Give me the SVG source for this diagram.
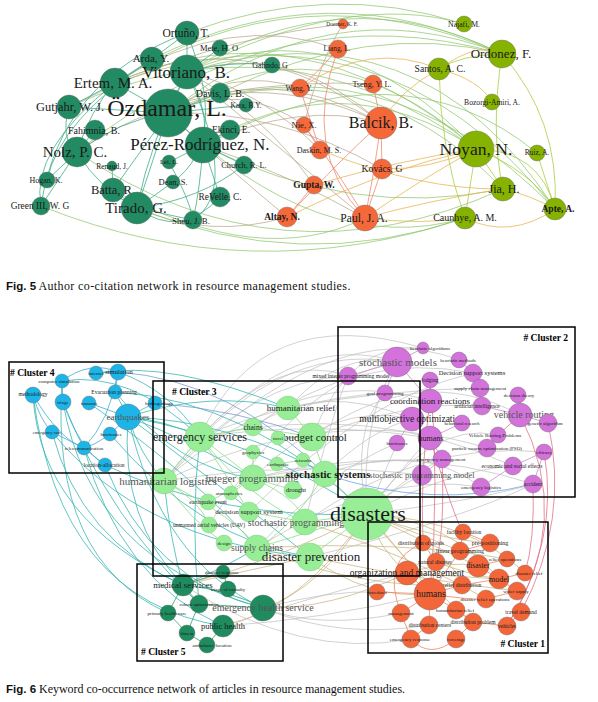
<svg xmlns="http://www.w3.org/2000/svg" width="598" height="702" viewBox="0 0 598 702">
<style>
text{font-family:"Liberation Serif","Times New Roman",serif;text-anchor:middle;fill:#1a1a1a}
.cap{text-anchor:start;fill:#111}
.capb{font-family:"Liberation Sans",Arial,sans-serif;font-weight:bold}
.cl{font-weight:bold;text-anchor:start;font-size:9.6px;fill:#000}
.clr{font-weight:bold;text-anchor:end;font-size:9.6px;fill:#000}
.g{fill:#555}
path{fill:none;stroke-width:0.9}
.c1{stroke:#3aa985;opacity:.85}
.c2{stroke:#8cc46a;opacity:.8}
.c3{stroke:#b5a68a;opacity:.8}
.c4{stroke:#f0846a;opacity:.85}
.c5{stroke:#e6b450;opacity:.85}
.c6{stroke:#a6cc3c;opacity:.85}
.b1{stroke:#2fb4b0;opacity:.85}
.b2{stroke:#38a8d0;opacity:.85}
.b3{stroke:#6c8fd8;opacity:.8}
.b4{stroke:#bdbdbd;opacity:.85;stroke-width:0.8}
.b5{stroke:#c58ac8;opacity:.85}
.b6{stroke:#e36a85;opacity:.85}
.b7{stroke:#c9b582;opacity:.85}
.b8{stroke:#86dc86;opacity:.85}
.b9{stroke:#2a9a6a;opacity:.85}
.b10{stroke:#ee7e56;opacity:.85}
.b11{stroke:#6ea6e6;opacity:.9}
circle{stroke:#6a6a6a;stroke-width:0.4}
.dg{fill:#228b64}
.og{fill:#f5683a}
.yg{fill:#86b300}
.bl{fill:#1db5e8}
.lg{fill:#97ee97;stroke:#79c479}
.pu{fill:#d272da}
.or{fill:#f2663a}
.d5{fill:#1e8c5e}
.box{fill:none;stroke:#000;stroke-width:1.5}
</style>
<rect width="598" height="702" fill="#fff"/>

<g id="connectors">
<!-- Fig 5 -->
<path class="c2" d="M187,72 Q345,-25 502,54"/>
<path class="c2" d="M168,113 Q330,-15 502,54"/>
<path class="c2" d="M115,83 Q300,-35 502,54"/>
<path class="c2" d="M152,59 Q330,-30 502,54"/>
<path class="c2" d="M187,33 Q330,-20 464,24"/>
<path class="c2" d="M168,113 Q320,10 476,149"/>
<path class="c2" d="M187,72 Q340,5 476,149"/>
<path class="c2" d="M115,83 Q300,0 476,149"/>
<path class="c2" d="M77,152 Q280,-10 502,54"/>
<path class="c2" d="M69,107 Q280,10 476,149"/>
<path class="c2" d="M187,72 Q420,0 555,209"/>
<path class="c2" d="M168,113 Q360,40 503,189"/>
<path class="c2" d="M220,93 Q370,20 502,54"/>
<path class="c2" d="M115,83 Q380,-10 555,209"/>
<path class="c2" d="M203,145 Q340,60 476,149"/>
<path class="c2" d="M168,113 Q320,260 465,218"/>
<path class="c2" d="M41,206 Q250,290 465,218"/>
<path class="c2" d="M137,208 Q300,275 465,218"/>
<path class="c2" d="M113,190 Q260,270 365,218"/>
<path class="c2" d="M187,72 Q350,-10 464,24"/>
<path class="c2" d="M203,145 Q400,40 537,153"/>
<path class="c2" d="M168,113 Q380,30 555,209"/>
<path class="c2" d="M77,152 Q280,290 503,189"/>
<path class="c2" d="M203,145 Q350,220 503,189"/>
<path class="c3" d="M168,113 Q270,60 381,123"/>
<path class="c3" d="M187,72 Q290,40 381,123"/>
<path class="c3" d="M115,83 Q250,20 381,123"/>
<path class="c3" d="M168,113 Q240,80 304,125"/>
<path class="c3" d="M187,72 Q260,90 320,150"/>
<path class="c3" d="M203,145 Q290,175 365,218"/>
<path class="c3" d="M168,113 Q230,65 300,88"/>
<path class="c3" d="M115,83 Q230,10 338,49"/>
<path class="c3" d="M168,113 Q280,110 382,169"/>
<path class="c3" d="M187,72 Q260,110 314,185"/>
<path class="c3" d="M137,208 Q210,240 287,217"/>
<path class="c3" d="M168,113 Q230,170 287,217"/>
<path class="c3" d="M77,152 Q230,50 381,123"/>
<path class="c3" d="M220,93 Q300,80 373,84"/>
<path class="c3" d="M69,107 Q200,40 343,24"/>
<path class="c3" d="M187,72 Q270,140 365,218"/>
<path class="c3" d="M203,145 Q300,100 381,123"/>
<path class="c3" d="M343,24 Q320,60 304,125"/>
<path class="c1" d="M168,113 L187,72 M168,113 L115,83 M168,113 L203,145 M168,113 Q120,120 77,152 M168,113 Q150,170 137,208 M168,113 L113,190 M168,113 L69,107 M187,72 L187,33 M187,72 Q210,110 203,145 M187,72 Q150,140 137,208 M115,83 L69,107 M115,83 Q90,110 77,152 M115,83 L152,59 M152,59 L187,33 M77,152 Q100,190 137,208 M77,152 L41,206 M77,152 L47,180 M137,208 L193,220 M137,208 L113,190 M203,145 Q200,190 193,220 M203,145 L244,165 M203,145 L220,197 M203,145 L169,162 M137,208 L173,182 M220,93 L168,113 M220,48 L187,72 M272,65 Q230,60 187,72 M246,105 L168,113 M230,130 L203,145 M95,130 L77,152 M112,166 L113,190 M69,107 Q60,140 77,152"/>
<path class="c1" d="M187,33 Q60,80 41,206 M115,83 Q30,150 41,206 M152,59 Q60,120 47,180 M187,72 Q240,190 193,220 M169,162 Q190,200 193,220 M220,197 Q180,240 137,208 M244,165 Q200,200 137,208 M187,33 Q230,140 173,182"/>
<path class="c4" d="M338,49 Q320,70 300,88 M373,84 L381,123 M381,123 Q375,170 365,218 M382,169 L365,218 M381,123 L382,169 M304,125 L320,150 M300,88 Q310,120 320,150 M338,49 Q300,150 365,218 M314,185 L287,217 M287,217 Q340,160 381,123 M304,125 Q350,190 365,218"/>
<path class="c5" d="M300,88 Q370,40 439,69 M439,69 Q480,80 492,102 M365,218 Q420,180 476,149 M365,218 Q430,200 503,189 M287,217 Q380,170 476,149 M382,169 Q430,170 476,149 M365,218 Q420,225 465,218 M381,123 Q400,90 439,69 M314,185 Q400,160 476,149 M320,150 Q420,190 503,189 M465,218 Q510,240 555,209 M503,189 Q530,195 555,209 M439,69 Q480,40 502,54"/>
<path class="c6" d="M502,54 Q460,55 439,69 M439,69 Q440,150 465,218 M502,54 Q490,130 503,189 M476,149 Q530,170 555,209 M537,153 L555,209 M476,149 L503,189 M476,149 L465,218 M502,54 Q560,120 555,209 M476,149 Q540,150 555,209"/>

<!-- Fig 6 -->
<path class="b4" d="M200,437 Q300,330 397,362 M200,437 Q280,350 348,376 M164,481 Q270,340 397,362 M164,481 Q300,360 430,401 M253,478 Q330,400 412,419 M367,514 Q360,420 397,362 M367,514 Q400,470 430,438 M367,514 Q400,480 442,459 M367,514 Q390,490 422,475 M367,514 L397,443 M367,514 Q350,430 385,393 M312,437 Q350,340 423,348 M312,437 Q420,360 520,415 M325,474 Q370,430 412,419 M253,427 Q360,350 473,373 M288,408 Q340,350 397,362 M200,437 Q370,400 513,466 M257,548 Q380,470 481,487 M253,478 Q400,440 533,484 M164,481 Q330,400 487,448"/>
<path class="b4" d="M305,522 Q420,440 544,452 M249,512 Q360,400 473,373 M310,557 Q460,520 533,484 M209,525 Q300,380 397,362 M200,437 Q320,420 430,438 M288,408 Q380,390 480,388 M312,437 Q410,400 482,406 M164,481 Q300,460 422,475 M253,478 Q350,460 442,459 M367,514 Q450,470 513,466 M367,514 Q430,420 498,435 M325,474 Q420,440 481,487 M305,522 Q330,420 348,376 M200,437 Q290,400 385,393 M164,481 Q250,380 348,376 M253,427 Q320,380 412,419 M257,548 Q330,470 397,443 M367,514 Q480,500 533,484 M200,437 Q260,300 423,348 M164,481 Q330,310 459,360"/>
<path class="b4" d="M263,608 Q320,630 401,613 M223,626 Q320,620 430,594 M263,608 Q330,590 377,592 M183,585 Q300,660 411,639 M223,626 Q300,600 407,573 M263,608 Q340,640 429,625"/>
<path class="b1" d="M128,417 Q165,420 200,437 M128,417 Q140,455 164,481 M128,417 Q190,440 253,478 M128,417 Q230,420 325,474 M128,417 Q210,390 288,408 M128,417 Q120,520 183,585 M128,417 Q260,440 367,514 M118,372 Q170,390 200,437 M115,392 Q250,400 367,514 M33,395 Q40,520 183,585 M63,402 Q90,560 263,608 M52,432 Q80,540 183,585 M84,448 Q120,580 223,626 M105,465 Q150,580 263,608 M110,434 Q200,540 310,557 M62,381 Q130,370 200,437 M33,395 Q60,600 223,626"/>
<path class="b1" d="M62,381 Q50,560 168,613 M63,402 Q110,520 199,604 M89,403 Q200,480 257,548 M128,417 Q200,470 310,557 M115,392 Q180,470 253,478 M96,373 Q170,360 288,408 M128,417 Q160,560 263,608 M52,432 Q140,540 310,557 M105,465 Q220,520 367,514 M257,548 Q220,570 183,585 M164,481 Q170,540 183,585 M200,437 Q190,520 199,604"/>
<path class="b2" d="M62,381 L63,402 M96,373 L118,372 M118,372 L115,392 M115,392 L128,417 M89,403 L128,417 M128,417 L110,434 M84,448 L105,465 M33,395 Q40,420 52,432 M52,432 L84,448 M110,434 Q95,445 84,448 M62,381 Q90,360 118,372 M118,372 Q110,420 84,448 M33,395 Q60,440 84,448 M63,402 Q80,450 105,465 M128,417 Q150,405 155,403"/>
<path class="b3" d="M155,403 Q240,410 312,437 M118,372 Q230,380 325,474"/>
<path class="b5" d="M397,362 L430,401 M459,360 L473,373 M480,388 L482,406 M520,415 L548,423 M462,423 L430,438 M412,419 L397,443 M430,438 L442,459 M442,459 L422,475 M513,466 L544,452 M533,484 L544,452 M423,348 L397,362 M430,380 L430,401 M385,393 L397,362 M473,373 L480,388 M518,395 L520,415 M482,406 L520,415 M487,448 L498,435 M481,487 L513,466 M348,376 L397,362"/>
<path class="b6" d="M430,380 Q440,480 430,594 M430,401 Q420,470 423,543 M520,415 Q575,520 507,626 M548,423 Q570,520 521,612 M544,452 Q560,540 507,626 M498,435 L520,415 M442,459 Q445,530 436,562 M430,438 Q455,520 463,532 M533,484 Q535,540 525,573"/>
<path class="b11" d="M325,474 Q430,510 533,484"/>
<path class="b7" d="M367,514 Q410,560 430,594 M367,514 Q380,550 407,573 M367,514 Q450,520 499,579 M367,514 Q470,520 525,573 M367,514 Q430,590 473,622 M367,514 Q280,560 183,585 M367,514 Q320,590 263,608 M367,514 Q300,610 223,626 M257,548 Q360,590 462,585 M310,557 Q370,600 430,594 M310,557 Q250,570 183,585 M407,573 Q330,610 263,608 M367,514 Q420,540 478,566 M367,514 Q440,540 490,543 M367,514 Q410,530 460,551 M257,548 Q400,540 507,559 M310,557 Q420,580 517,591 M305,522 Q420,560 486,599 M407,573 L499,579 M407,573 Q450,560 478,566 M436,562 Q470,575 499,579 M423,543 Q460,570 462,585"/>
<path class="b8" d="M200,437 L253,427 M200,437 L164,481 M200,437 L253,478 M253,478 L325,474 M253,427 L312,437 M312,437 L325,474 M288,408 L312,437 M257,548 L367,514 M310,557 L367,514 M249,512 L305,522 M277,464 L303,460 M164,481 Q190,520 224,543 M305,522 L367,514 M253,478 Q300,500 305,522 M325,474 L367,514 M200,437 Q230,480 249,512 M164,481 Q200,500 209,525 M253,478 L293,490 M231,493 L253,478 M208,502 L253,478 M253,452 L253,478 M278,438 L312,437 M164,481 Q240,520 257,548 M200,437 Q250,500 305,522 M325,474 Q290,530 257,548"/>
<path class="b9" d="M183,585 L199,604 M183,585 L168,613 M199,604 L187,633 M187,633 L207,645 M199,604 L263,608 M183,585 Q230,590 263,608 M223,626 L207,645 M168,613 L187,633 M223,572 L228,589 M183,585 L223,572"/>
<path class="b10" d="M463,532 L490,543 M423,543 L436,562 M460,551 L430,594 M430,594 L407,573 M430,594 L401,613 M430,594 L429,625 M430,594 L456,610 M430,594 L462,585 M478,566 L499,579 M499,579 L517,591 M486,599 L517,591 M473,622 L456,639 M401,613 L411,639 M411,639 Q430,660 456,639 M507,626 L521,612 M462,585 L499,579 M436,562 L430,594 M429,625 L411,639 M478,566 L507,559 M456,610 L473,622 M473,622 L507,626 M490,543 L460,551 M463,532 L460,551 M377,592 L430,594 M499,579 L525,573 M430,594 Q470,600 486,599 M401,613 Q380,560 423,543"/>
</g>

<!-- Fig 5 nodes -->
<g id="n-ortuno"><circle class="dg" cx="187" cy="33" r="12"/><text x="186" y="37" font-size="11.5">Ortuño, T.</text></g>
<g id="n-mete"><circle class="dg" cx="220" cy="48" r="8"/><text x="219" y="51" font-size="8.5">Mete, H. O</text></g>
<g id="n-arda"><circle class="dg" cx="152" cy="59" r="12"/><text x="151" y="62" font-size="11">Arda, Y.</text></g>
<g id="n-vitoriano"><circle class="dg" cx="187" cy="72" r="17"/><text x="186" y="78" font-size="17">Vitoriano, B.</text></g>
<g id="n-galindo"><circle class="dg" cx="272" cy="65" r="8"/><text x="270" y="68" font-size="8">Galindo, G</text></g>
<g id="n-ertem"><circle class="dg" cx="115" cy="83" r="15"/><text x="113" y="88" font-size="15">Ertem, M. A.</text></g>
<g id="n-davis"><circle class="dg" cx="220" cy="93" r="10"/><text x="220" y="96.5" font-size="10">Davis, L. B.</text></g>
<g id="n-kara"><circle class="dg" cx="246" cy="105" r="7"/><text x="246" y="107.5" font-size="7.4">Kara, B.Y.</text></g>
<g id="n-gutjahr"><circle class="dg" cx="69" cy="107" r="12"/><text x="70" y="111" font-size="12.4">Gutjahr, W. J.</text></g>
<g id="n-ozdamar"><circle class="dg" cx="168" cy="113" r="24"/><text x="167" y="116" font-size="24">Özdamar, L.</text></g>
<g id="n-fahimnia"><circle class="dg" cx="95" cy="130" r="10"/><text x="94" y="133.5" font-size="10">Fahimnia, B.</text></g>
<g id="n-nolz"><circle class="dg" cx="77" cy="152" r="15"/><text x="75" y="157" font-size="15">Nolz, P. C.</text></g>
<g id="n-ekinci"><circle class="dg" cx="230" cy="130" r="10"/><text x="231" y="132.5" font-size="9.6">Ekinci, E.</text></g>
<g id="n-perez"><circle class="dg" cx="203" cy="145" r="18"/><text x="200" y="150" font-size="17">Pérez-Rodríguez, N.</text></g>
<g id="n-renaud"><circle class="dg" cx="112" cy="166" r="5"/><text x="112" y="168.5" font-size="7.5">Renaud, J.</text></g>
<g id="n-lei"><circle class="dg" cx="169" cy="162" r="7"/><text x="169" y="164.3" font-size="6.7">Lei, L.</text></g>
<g id="n-church"><circle class="dg" cx="244" cy="165" r="9"/><text x="244" y="167.8" font-size="8.3">Church, R. L.</text></g>
<g id="n-hogan"><circle class="dg" cx="47" cy="180" r="8"/><text x="46" y="182.7" font-size="8">Hogan, K.</text></g>
<g id="n-dean"><circle class="dg" cx="173" cy="182" r="7"/><text x="173" y="184.8" font-size="8.5">Dean, S.</text></g>
<g id="n-batta"><circle class="dg" cx="113" cy="190" r="12"/><text x="113" y="194" font-size="12.5">Batta, R.</text></g>
<g id="n-revelle"><circle class="dg" cx="220" cy="197" r="10"/><text x="220" y="200" font-size="9.4">ReVelle, C.</text></g>
<g id="n-green"><circle class="dg" cx="41" cy="206" r="9"/><text x="40" y="209" font-size="9.4">Green III, W. G</text></g>
<g id="n-tirado"><circle class="dg" cx="137" cy="208" r="16"/><text x="136" y="213" font-size="15">Tirado, G.</text></g>
<g id="n-sheu"><circle class="dg" cx="193" cy="220" r="9"/><text x="191" y="224" font-size="8.8">Sheu, J. B.</text></g>
<g id="n-wang"><circle class="og" cx="300" cy="88" r="9"/><text x="299" y="90.5" font-size="7.5">Wang, Y.</text></g>
<g id="n-doerner"><circle class="og" cx="343" cy="24" r="5"/><text x="342" y="25.8" font-size="5.5">Doerner, K. F.</text></g>
<g id="n-liang"><circle class="og" cx="338" cy="49" r="9"/><text x="337" y="51.4" font-size="7.3">Liang, L.</text></g>
<g id="n-tseng"><circle class="og" cx="373" cy="84" r="9"/><text x="372" y="86.7" font-size="8.2">Tseng, Y. L.</text></g>
<g id="n-balcik"><circle class="og" cx="381" cy="123" r="16"/><text x="381" y="127.5" font-size="16">Balcik, B.</text></g>
<g id="n-nie"><circle class="og" cx="304" cy="125" r="8"/><text x="304" y="127.8" font-size="8.6">Nie, X.</text></g>
<g id="n-daskin"><circle class="og" cx="320" cy="150" r="9"/><text x="319" y="152.7" font-size="8.1">Daskin, M. S.</text></g>
<g id="n-kovacs"><circle class="og" cx="382" cy="169" r="10"/><text x="382" y="172.2" font-size="9.7">Kovács, G</text></g>
<g id="n-gupta"><circle class="og" cx="314" cy="185" r="9"/><text x="314" y="188.1" font-size="9.5" font-weight="bold">Gupta, W.</text></g>
<g id="n-altay"><circle class="og" cx="287" cy="217" r="10"/><text x="282" y="220.1" font-size="9.5" font-weight="bold">Altay, N.</text></g>
<g id="n-paul"><circle class="og" cx="365" cy="218" r="13"/><text x="364" y="221.8" font-size="11.6">Paul, J. A.</text></g>
<g id="n-najafi"><circle class="yg" cx="464" cy="24" r="8"/><text x="464" y="26.5" font-size="7.7">Najafi, M.</text></g>
<g id="n-ordonez"><circle class="yg" cx="502" cy="54" r="14"/><text x="501" y="58.3" font-size="13">Ordonez, F.</text></g>
<g id="n-santos"><circle class="yg" cx="439" cy="69" r="11"/><text x="440" y="72.2" font-size="9.7">Santos, A. C.</text></g>
<g id="n-bozorgi"><circle class="yg" cx="492" cy="102" r="8"/><text x="492" y="104.5" font-size="7.6">Bozorgi-Amiri, A.</text></g>
<g id="n-noyan"><circle class="yg" cx="476" cy="149" r="18"/><text x="476" y="154.8" font-size="17.6">Noyan, N.</text></g>
<g id="n-ruiz"><circle class="yg" cx="537" cy="153" r="8"/><text x="537" y="155.4" font-size="7.4">Ruiz, A.</text></g>
<g id="n-jia"><circle class="yg" cx="503" cy="189" r="12"/><text x="504" y="193" font-size="12">Jia, H.</text></g>
<g id="n-apte"><circle class="yg" cx="555" cy="209" r="11"/><text x="558" y="212.1" font-size="9.5" font-weight="bold">Apte, A.</text></g>
<g id="n-caunhye"><circle class="yg" cx="465" cy="218" r="11"/><text x="465" y="221.3" font-size="10">Caunhye, A. M.</text></g>

<text class="cap" x="6" y="290" font-size="12"><tspan class="capb" font-size="11.5">Fig. 5</tspan> <tspan textLength="312">Author co-citation network in resource management studies.</tspan></text>

<!-- Fig 6 nodes: cluster 4 -->
<g id="k-computer-simulation"><circle class="bl" cx="62" cy="381" r="7"/><text x="59" y="382.7" font-size="5">computer simulation</text></g>
<g id="k-internet"><circle class="bl" cx="96" cy="373" r="7"/><text x="96" y="374.7" font-size="5">internet</text></g>
<g id="k-simulation"><circle class="bl" cx="118" cy="372" r="8"/><text x="119" y="374.2" font-size="6.5">simulation</text></g>
<g id="k-methodology"><circle class="bl" cx="33" cy="395" r="8"/><text x="33" y="396" font-size="5.5">methodology</text></g>
<g id="k-triage"><circle class="bl" cx="63" cy="402" r="8"/><text x="63" y="403.7" font-size="5">triage</text></g>
<g id="k-evacuation"><circle class="bl" cx="115" cy="392" r="7"/><text x="114" y="393.8" font-size="5.5">Evacuation planning</text></g>
<g id="k-tsunamis"><circle class="bl" cx="89" cy="403" r="7"/><text x="89" y="404.5" font-size="4.5">tsunamis</text></g>
<g id="k-hydro"><circle class="bl" cx="155" cy="403" r="7"/><text x="159" y="404.7" font-size="5">hydrogeology</text></g>
<g id="k-earthquakes"><circle class="bl" cx="128" cy="417" r="13"/><text class="g" x="128" y="420" font-size="9">earthquakes</text></g>
<g id="k-emergency-care"><circle class="bl" cx="52" cy="432" r="7"/><text x="47" y="433.5" font-size="4.5">emergency care</text></g>
<g id="k-hurricanes4"><circle class="bl" cx="110" cy="434" r="7"/><text x="111" y="435.7" font-size="5">hurricanes</text></g>
<g id="k-telecom"><circle class="bl" cx="84" cy="448" r="7"/><text x="84" y="449.7" font-size="5">telecommunication</text></g>
<g id="k-location"><circle class="bl" cx="105" cy="465" r="7"/><text x="104" y="466.8" font-size="5.5">location-allocation</text></g>

<!-- cluster 3 -->
<g id="k-emergency-services"><circle class="lg" cx="200" cy="437" r="15"/><text x="200" y="441" font-size="12" fill="#333">emergency services</text></g>
<g id="k-humanitarian-relief3"><circle class="lg" cx="288" cy="408" r="12"/><text x="301" y="411" font-size="9" fill="#444">humanitarian relief</text></g>
<g id="k-chains"><circle class="lg" cx="253" cy="427" r="9"/><text x="253" y="429.5" font-size="7.5">chains</text></g>
<g id="k-budget"><circle class="lg" cx="312" cy="437" r="14"/><text x="315" y="440.6" font-size="11" fill="#333">budget control</text></g>
<g id="k-travel"><circle class="lg" cx="278" cy="438" r="7"/><text x="278" y="439.5" font-size="4.5">travel</text></g>
<g id="k-geophysics"><circle class="lg" cx="253" cy="452" r="7"/><text x="253" y="453.7" font-size="5">geophysics</text></g>
<g id="k-earthquake"><circle class="lg" cx="277" cy="464" r="7"/><text x="278" y="465.7" font-size="5">earthquake</text></g>
<g id="k-networks"><circle class="lg" cx="303" cy="460" r="7"/><text x="303" y="461.5" font-size="4.5">networks</text></g>
<g id="k-hum-logistics"><circle class="lg" cx="164" cy="481" r="13"/><text class="g" x="168" y="484.6" font-size="11">humanitarian logistics</text></g>
<g id="k-integer"><circle class="lg" cx="253" cy="478" r="13"/><text class="g" x="252" y="481.6" font-size="11">integer programming</text></g>
<g id="k-stoch-systems"><circle class="lg" cx="325" cy="474" r="13"/><text x="328" y="477.6" font-size="11" font-weight="bold" fill="#333">stochastic systems</text></g>
<g id="k-drought"><circle class="lg" cx="293" cy="490" r="9"/><text x="296" y="492.2" font-size="6.5">drought</text></g>
<g id="k-atmospherics"><circle class="lg" cx="231" cy="493" r="7"/><text x="229" y="494.7" font-size="5">atmospherics</text></g>
<g id="k-eq-event"><circle class="lg" cx="208" cy="502" r="8"/><text x="208" y="503.8" font-size="5.5">earthquake event</text></g>
<g id="k-dss"><circle class="lg" cx="249" cy="512" r="10"/><text x="249" y="514.3" font-size="7">decision support system</text></g>
<g id="k-uav"><circle class="lg" cx="209" cy="525" r="8"/><text x="209" y="526.8" font-size="5.5">unmanned aerial vehicles (UAV)</text></g>
<g id="k-stoch-prog"><circle class="lg" cx="305" cy="522" r="13"/><text class="g" x="296" y="526.3" font-size="10">stochastic programming</text></g>
<g id="k-design"><circle class="lg" cx="224" cy="543" r="8"/><text x="224" y="544.7" font-size="5">design</text></g>
<g id="k-supply-chains"><circle class="lg" cx="257" cy="548" r="13"/><text class="g" x="257" y="551.2" font-size="9.5">supply chains</text></g>
<g id="k-disasters"><circle class="lg" cx="367" cy="514" r="26"/><text x="368" y="521" font-size="22" fill="#000">disasters</text></g>
<g id="k-disaster-prevention"><circle class="lg" cx="310" cy="557" r="14"/><text x="311" y="561.3" font-size="13" fill="#111">disaster prevention</text></g>

<!-- cluster 2 -->
<g id="k-mip"><circle class="pu" cx="348" cy="376" r="9"/><text x="351" y="377.8" font-size="5.5">mixed integer programming model</text></g>
<g id="k-heur-alg"><circle class="pu" cx="423" cy="348" r="6"/><text x="430" y="349.7" font-size="5">heuristic algorithms</text></g>
<g id="k-stoch-models"><circle class="pu" cx="397" cy="362" r="15"/><text class="g" x="398" y="365.6" font-size="11">stochastic models</text></g>
<g id="k-heur-methods"><circle class="pu" cx="459" cy="360" r="8"/><text x="458" y="361.7" font-size="5">heuristic methods</text></g>
<g id="k-dsys"><circle class="pu" cx="473" cy="373" r="9"/><text x="472" y="375.2" font-size="6.5">Decision support systems</text></g>
<g id="k-lodging"><circle class="pu" cx="430" cy="380" r="8"/><text x="430" y="381.8" font-size="5.5">lodging</text></g>
<g id="k-goal"><circle class="pu" cx="385" cy="393" r="8"/><text x="385" y="394.7" font-size="5">goal programming</text></g>
<g id="k-scm"><circle class="pu" cx="480" cy="388" r="9"/><text x="480" y="389.7" font-size="5">supply chain management</text></g>
<g id="k-dtheory"><circle class="pu" cx="518" cy="395" r="8"/><text x="519" y="396.7" font-size="5">decision theory</text></g>
<g id="k-coord"><circle class="pu" cx="430" cy="401" r="12"/><text x="430" y="404" font-size="9" fill="#333">coordination reactions</text></g>
<g id="k-ai"><circle class="pu" cx="482" cy="406" r="9"/><text x="477" y="407.8" font-size="5.5">artificial intelligence</text></g>
<g id="k-vr"><circle class="pu" cx="520" cy="415" r="12"/><text class="g" x="524" y="418.3" font-size="10">vehicle routing</text></g>
<g id="k-multi"><circle class="pu" cx="412" cy="419" r="12"/><text x="412" y="422.1" font-size="9.5" fill="#333">multiobjective optimization</text></g>
<g id="k-behav"><circle class="pu" cx="462" cy="423" r="8"/><text x="462" y="424.5" font-size="4.5">behavioral research</text></g>
<g id="k-genetic"><circle class="pu" cx="548" cy="423" r="9"/><text x="545" y="424.7" font-size="5">genetic algorithm</text></g>
<g id="k-vrp"><circle class="pu" cx="498" cy="435" r="8"/><text x="495" y="436.7" font-size="5">Vehicle Routing Problems</text></g>
<g id="k-humans2"><circle class="pu" cx="430" cy="438" r="12"/><text x="431" y="440.6" font-size="8" fill="#333">humans</text></g>
<g id="k-hurricanes2"><circle class="pu" cx="397" cy="443" r="8"/><text x="397" y="444.7" font-size="5">hurricanes</text></g>
<g id="k-pso"><circle class="pu" cx="487" cy="448" r="9"/><text x="487" y="449.7" font-size="5">particle swarm optimization (PSO)</text></g>
<g id="k-efficacy"><circle class="pu" cx="544" cy="452" r="8"/><text x="544" y="453.7" font-size="5">efficacy</text></g>
<g id="k-em"><circle class="pu" cx="442" cy="459" r="9"/><text x="441" y="460.7" font-size="5">emergency management</text></g>
<g id="k-ese"><circle class="pu" cx="513" cy="466" r="9"/><text x="512" y="467.8" font-size="5.5">economic and social effects</text></g>
<g id="k-spm"><circle class="pu" cx="422" cy="475" r="10"/><text class="g" x="422" y="477.8" font-size="8.5">stochastic programming model</text></g>
<g id="k-el"><circle class="pu" cx="481" cy="487" r="9"/><text x="481" y="488.7" font-size="5">emergency logistics</text></g>
<g id="k-accident"><circle class="pu" cx="533" cy="484" r="9"/><text x="533" y="485.8" font-size="5.5">accident</text></g>

<!-- cluster 1 -->
<g id="k-facility"><circle class="or" cx="463" cy="532" r="8"/><text x="464" y="533.8" font-size="5.5">facility location</text></g>
<g id="k-dgoods"><circle class="or" cx="423" cy="543" r="8"/><text x="421" y="544.8" font-size="5.5">distribution of goods</text></g>
<g id="k-prepos"><circle class="or" cx="490" cy="543" r="9"/><text x="490" y="545" font-size="6">pre-positioning</text></g>
<g id="k-linear"><circle class="or" cx="460" cy="551" r="9"/><text x="460" y="553" font-size="6">linear programming</text></g>
<g id="k-relief-ops"><circle class="or" cx="507" cy="559" r="8"/><text x="505" y="560.7" font-size="5">relief operations</text></g>
<g id="k-natural"><circle class="or" cx="436" cy="562" r="9"/><text x="435" y="563.8" font-size="5.5">natural disaster</text></g>
<g id="k-disaster"><circle class="or" cx="478" cy="566" r="11"/><text x="478" y="567.5" font-size="7.5">disaster</text></g>
<g id="k-org"><circle class="or" cx="407" cy="573" r="12"/><text x="407" y="576.1" font-size="9.5" fill="#333">organization and management</text></g>
<g id="k-model"><circle class="or" cx="499" cy="579" r="10"/><text x="499" y="581.6" font-size="8">model</text></g>
<g id="k-drelief"><circle class="or" cx="525" cy="573" r="8"/><text x="529" y="574.7" font-size="5">disaster relief</text></g>
<g id="k-rdist"><circle class="or" cx="462" cy="585" r="9"/><text x="462" y="586.8" font-size="5.5">relief distribution</text></g>
<g id="k-procedures"><circle class="or" cx="377" cy="592" r="8"/><text x="377" y="593.5" font-size="4.5">procedures</text></g>
<g id="k-humans1"><circle class="or" cx="430" cy="594" r="16"/><text x="431" y="597.1" font-size="9.5" fill="#333">humans</text></g>
<g id="k-water"><circle class="or" cx="517" cy="591" r="9"/><text x="516" y="592.7" font-size="5">water supply</text></g>
<g id="k-dro"><circle class="or" cx="486" cy="599" r="9"/><text x="485" y="600.7" font-size="5">disaster relief operations</text></g>
<g id="k-hrelief1"><circle class="or" cx="456" cy="610" r="9"/><text x="455" y="611.7" font-size="5">humanitarian relief</text></g>
<g id="k-management"><circle class="or" cx="401" cy="613" r="9"/><text x="401" y="614.7" font-size="5">management</text></g>
<g id="k-travel-demand"><circle class="or" cx="521" cy="612" r="9"/><text x="521" y="613.8" font-size="5.5">travel demand</text></g>
<g id="k-dcenters"><circle class="or" cx="429" cy="625" r="9"/><text x="430" y="626.8" font-size="5.5">distribution centers</text></g>
<g id="k-dproblem"><circle class="or" cx="473" cy="622" r="9"/><text x="473" y="623.8" font-size="5.5">distribution problem</text></g>
<g id="k-vehicles"><circle class="or" cx="507" cy="626" r="9"/><text x="507" y="627.8" font-size="5.5">vehicles</text></g>
<g id="k-eresponse"><circle class="or" cx="411" cy="639" r="9"/><text x="410" y="640.7" font-size="5">emergency response</text></g>
<g id="k-coverage"><circle class="or" cx="456" cy="639" r="9"/><text x="456" y="640.7" font-size="5">coverage</text></g>

<!-- cluster 5 -->
<g id="k-dresponse"><circle class="d5" cx="223" cy="572" r="7"/><text x="222" y="573.7" font-size="5">disaster response</text></g>
<g id="k-medical"><circle class="d5" cx="183" cy="585" r="11"/><text x="183" y="588" font-size="9" fill="#333">medical services</text></g>
<g id="k-triage-casualty"><circle class="d5" cx="228" cy="589" r="8"/><text x="228" y="590.7" font-size="5">triage of casualty</text></g>
<g id="k-robust"><circle class="d5" cx="199" cy="604" r="9"/><text x="199" y="605.7" font-size="5">robust optimization</text></g>
<g id="k-ehs"><circle class="d5" cx="263" cy="608" r="13"/><text class="g" x="263" y="611.3" font-size="10">emergency health service</text></g>
<g id="k-phc"><circle class="d5" cx="168" cy="613" r="8"/><text x="167" y="614.7" font-size="5">primary health care</text></g>
<g id="k-public"><circle class="d5" cx="223" cy="626" r="11"/><text x="223" y="628.8" font-size="8.5" fill="#333">public health</text></g>
<g id="k-fitness"><circle class="d5" cx="187" cy="633" r="8"/><text x="187" y="634.7" font-size="5">fitness</text></g>
<g id="k-ambulance"><circle class="d5" cx="207" cy="645" r="8"/><text x="212" y="646.7" font-size="5">ambulance location</text></g>

<g id="clusters">
<rect class="box" x="9" y="362" width="155" height="111"/>
<rect class="box" x="153" y="381" width="267" height="195"/>
<rect class="box" x="338" y="327" width="237" height="170"/>
<rect class="box" x="368" y="522" width="180" height="131"/>
<rect class="box" x="137" y="564" width="146" height="97"/>
<text class="cl" x="10" y="376">#  Cluster 4</text>
<text class="cl" x="172" y="395">#  Cluster 3</text>
<text class="clr" x="568" y="341">#  Cluster 2</text>
<text class="clr" x="545" y="647">#  Cluster 1</text>
<text class="cl" x="141" y="655">#  Cluster 5</text>
</g>

<text class="cap" x="6" y="693" font-size="12"><tspan class="capb" font-size="11.5">Fig. 6</tspan> <tspan textLength="366">Keyword co-occurrence network of articles in resource management studies.</tspan></text>
</svg>
